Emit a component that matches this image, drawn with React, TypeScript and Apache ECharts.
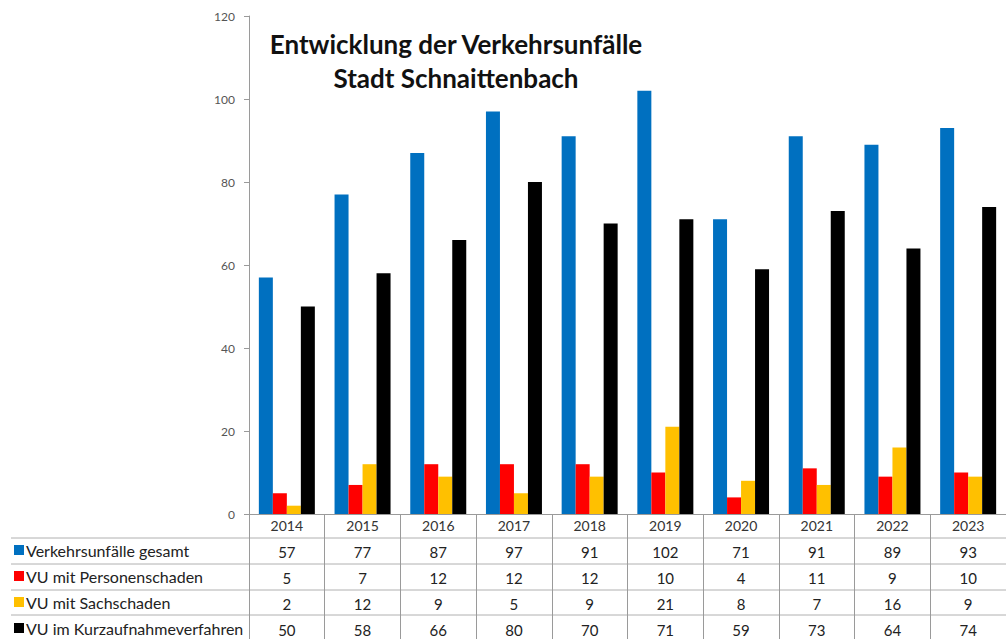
import React, { useEffect, useRef } from "react";
import * as echarts from "echarts";

const years = ["2014", "2015", "2016", "2017", "2018", "2019", "2020", "2021", "2022", "2023"];
const seriesNames = [
  "Verkehrsunfälle gesamt",
  "VU mit Personenschaden",
  "VU mit Sachschaden",
  "VU im Kurzaufnahmeverfahren",
];
const gesamt = [57, 77, 87, 97, 91, 102, 71, 91, 89, 93];
const personenschaden = [5, 7, 12, 12, 12, 10, 4, 11, 9, 10];
const sachschaden = [2, 12, 9, 5, 9, 21, 8, 7, 16, 9];
const kurzaufnahme = [50, 58, 66, 80, 70, 71, 59, 73, 64, 74];
const seriesValues = [gesamt, personenschaden, sachschaden, kurzaufnahme];
const colors = ["#0070C0", "#FF0000", "#FFC000", "#000000"];
const titleLines = ["Entwicklung der Verkehrsunfälle", "Stadt Schnaittenbach"];

const FONT = "Lato, 'Open Sans', sans-serif";

export default function App() {
  const ref = useRef<HTMLDivElement>(null);
  useEffect(() => {
    if (!ref.current) return;
    const chart = echarts.init(ref.current, undefined, { renderer: "svg" });
    const rowLineYs = [538, 564, 590, 615];
    const xAxes: any[] = [
      {
        type: "category",
        data: years,
        position: "bottom",
        gridIndex: 0,
        axisLine: { show: true, lineStyle: { color: "#9a9a9a", width: 1 } },
        axisTick: { show: true, length: 126, interval: 0, lineStyle: { color: "#9a9a9a" } },
        axisLabel: { color: "#333", fontSize: 14, fontFamily: FONT, margin: 4, interval: 0 },
      },
    ];
    seriesValues.forEach((vals, k) => {
      xAxes.push({
        type: "category",
        data: years,
        position: "bottom",
        offset: 26 * (k + 1),
        gridIndex: 0,
        axisLine: { show: false },
        axisTick: { show: false },
        axisLabel: {
          color: "#222",
          fontSize: 15,
          fontFamily: FONT,
          margin: 4,
          interval: 0,
          formatter: (_v: string, idx: number) => String(vals[idx]),
        },
      });
    });
    const legends = seriesNames.map((name, k) => ({
      orient: "horizontal",
      left: 14,
      top: 542 + 26 * k,
      itemWidth: 10,
      itemHeight: 10,
      icon: "rect",
      selectedMode: false,
      data: [name],
      padding: 0,
      textStyle: { fontFamily: FONT, fontSize: 16, color: "#222", padding: [0, 0, 0, -3] },
    }));
    chart.setOption({
      animation: false,
      backgroundColor: "#fff",
      title: {
        text: titleLines.join("\n"),
        left: 451,
        top: 22,
        textAlign: "center",
        textStyle: {
          fontFamily: FONT,
          fontWeight: "bold",
          fontSize: 26,
          lineHeight: 34,
          color: "#111",
        },
      },
      grid: { left: 249, top: 16, width: 770, height: 498, containLabel: false },
      legend: legends,
      xAxis: xAxes,
      yAxis: {
        type: "value",
        min: 0,
        max: 120,
        interval: 20,
        axisLine: { show: true, lineStyle: { color: "#9a9a9a" } },
        axisTick: { show: true, length: 5, lineStyle: { color: "#9a9a9a" } },
        axisLabel: { color: "#555", fontSize: 12, fontFamily: FONT, margin: 14 },
        splitLine: { show: false },
      },
      graphic: rowLineYs.map((y) => ({
        type: "line",
        shape: { x1: 11, y1: y, x2: 1006, y2: y },
        style: { stroke: "#b0b0b0", lineWidth: 1 },
        silent: true,
      })),
      series: seriesValues.map((vals, k) => ({
        name: seriesNames[k],
        type: "bar",
        xAxisIndex: 0,
        data: vals,
        barWidth: 14,
        barGap: "0%",
        itemStyle: { color: colors[k] },
      })),
    });
    return () => chart.dispose();
  }, []);
  return (
    <div
      ref={ref}
      style={{ position: "absolute", left: 0, top: 0, width: 1006, height: 639, overflow: "hidden" }}
    />
  );
}
